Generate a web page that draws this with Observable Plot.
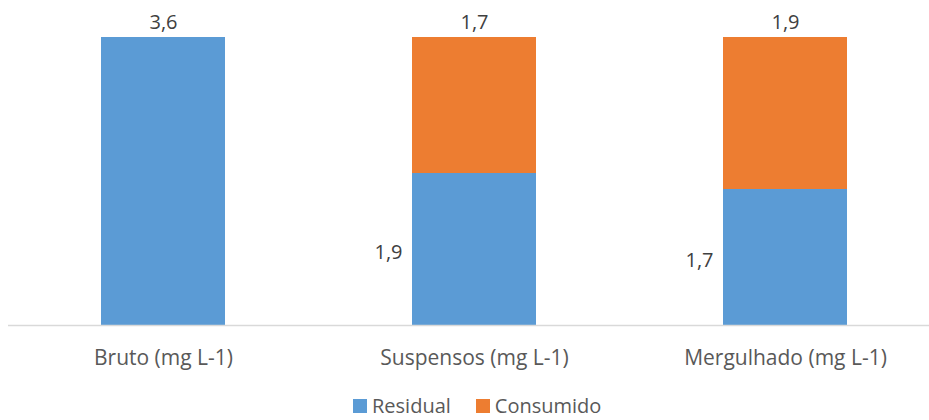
<!DOCTYPE html>
<html>
<head>
<meta charset="utf-8">
<script src="https://cdn.jsdelivr.net/npm/d3@7"></script>
<script src="https://cdn.jsdelivr.net/npm/@observablehq/plot@0.6"></script>
<style>
  html, body { margin: 0; padding: 0; background: #fff; }
  body { position: relative; width: 929px; height: 420px; overflow: hidden; }
  #chart { width: 929px; }
  .legend { position: absolute; left: 353px; top: 394px; height: 24px; display: flex; align-items: center; gap: 25px;
    font-family: "Open Sans", sans-serif; font-size: 20px; line-height: 22px; color: #595959; white-space: nowrap; }
  .legend .item { display: flex; align-items: center; }
  .legend span.sw { display: inline-block; width: 14px; height: 14px; margin-right: 5px; }
</style>
</head>
<body>
<div id="chart"></div>
<script>
const categories = ["Bruto (mg L-1)", "Suspensos (mg L-1)", "Mergulhado (mg L-1)"];
const residual = [3.6, 1.9, 1.7];
const consumido = [0, 1.7, 1.9];
const seriesNames = ["Residual", "Consumido"];
const seriesColors = ["#5B9BD5", "#ED7D31"];

const fmt = v => d3.format(".1f")(v).replace(".", ",");

const rows = [];
categories.forEach((c, i) => {
  rows.push({cat: c, serie: "Residual", value: residual[i]});
  rows.push({cat: c, serie: "Consumido", value: consumido[i]});
});
const topLabels = categories.map((c, i) => ({cat: c, total: residual[i] + consumido[i],
  label: fmt(consumido[i] > 0 ? consumido[i] : residual[i])}));
const sideLabels = categories.map((c, i) => ({cat: c, y: residual[i] / 2, label: fmt(residual[i]), show: consumido[i] > 0}))
  .filter(d => d.show);

const chart = Plot.plot({
  width: 929,
  height: 380,
  marginTop: 37,
  marginBottom: 55,
  marginLeft: 8,
  marginRight: 0,
  style: {fontFamily: "Open Sans, sans-serif", color: "#404040", background: "#fff"},
  x: {domain: categories, range: [8, 941], paddingInner: 0.6, paddingOuter: 0.3, label: null},
  y: {domain: [0, 3.6], axis: null},
  color: {domain: seriesNames, range: seriesColors},
  marks: [
    Plot.barY(rows, Plot.stackY({x: "cat", y: "value", fill: "serie", order: seriesNames})),
    Plot.ruleY([0], {stroke: "#D9D9D9", strokeWidth: 1.3}),
    Plot.axisX({tickSize: 0, tickPadding: 25, fontSize: 21, fill: "#595959", label: null}),
    Plot.text(topLabels, {x: "cat", y: "total", text: "label", dy: -15, fontSize: 20, fill: "#404040"}),
    Plot.text(sideLabels, {x: "cat", y: "y", text: "label", dx: -72, dy: 3, textAnchor: "end", fontSize: 20, fill: "#404040"})
  ]
});
document.getElementById("chart").appendChild(chart);

const legend = document.createElement("div");
legend.className = "legend";
seriesNames.forEach((s, i) => {
  const item = document.createElement("div");
  item.className = "item";
  item.innerHTML = `<span class="sw" style="background:${seriesColors[i]}"></span>${s}`;
  legend.appendChild(item);
});
document.body.appendChild(legend);
</script>
</body>
</html>
